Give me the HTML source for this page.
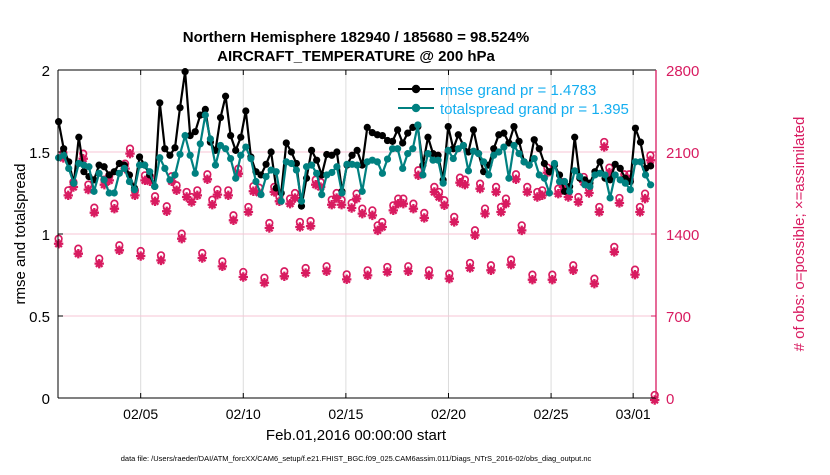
<!DOCTYPE html>
<html><head><meta charset="utf-8"><style>
body{margin:0;background:#fff;}
svg text{font-family:"Liberation Sans",Arial,sans-serif;}
</style></head><body>
<svg id="chart" width="830" height="470" viewBox="0 0 830 470" xmlns="http://www.w3.org/2000/svg">
<rect width="830" height="470" fill="#fff"/>
<g id="grid"></g>
<g id="pinks"></g>
<g id="lines"></g>
<g id="axes"></g>
<text x="356" y="42" text-anchor="middle" font-size="15" font-weight="bold">Northern Hemisphere 182940 / 185680 = 98.524%</text>
<text x="356" y="61" text-anchor="middle" font-size="15" font-weight="bold">AIRCRAFT_TEMPERATURE @ 200 hPa</text>
<text transform="translate(25,234) rotate(-90)" text-anchor="middle" font-size="15">rmse and totalspread</text>
<text transform="translate(804,234) rotate(-90)" text-anchor="middle" font-size="15" fill="#d81b60"># of obs: o=possible; ×=assimilated</text>
<text x="356" y="440" text-anchor="middle" font-size="15">Feb.01,2016 00:00:00 start</text>
<text x="356" y="461" text-anchor="middle" font-size="7.5">data file: /Users/raeder/DAI/ATM_forcXX/CAM6_setup/f.e21.FHIST_BGC.f09_025.CAM6assim.011/Diags_NTrS_2016-02/obs_diag_output.nc</text>
<g>
<line x1="398" y1="89" x2="434" y2="89" stroke="#000" stroke-width="2"/>
<circle cx="416" cy="89" r="4.2" fill="#000"/>
<text x="440" y="95" font-size="15" fill="#14aef0">rmse grand pr = 1.4783</text>
<line x1="398" y1="108" x2="434" y2="108" stroke="#008080" stroke-width="2"/>
<circle cx="416" cy="108" r="4.2" fill="#008080"/>
<text x="440" y="114" font-size="15" fill="#14aef0">totalspread grand pr = 1.395</text>
</g>
</svg>
<script>
const rmse=[1.685,1.52,1.44,1.31,1.59,1.38,1.35,1.33,1.42,1.41,1.36,1.38,1.43,1.42,1.36,1.28,1.47,1.42,1.36,1.29,
1.80,1.52,1.48,1.526,1.77,1.99,1.60,1.624,1.725,1.76,1.56,1.51,1.71,1.84,1.60,1.51,1.59,1.75,1.47,1.38,
1.36,1.425,1.50,1.28,1.25,1.555,1.50,1.43,1.17,1.34,1.51,1.45,1.36,1.485,1.48,1.50,1.26,1.42,1.48,1.51,
1.42,1.65,1.618,1.605,1.60,1.57,1.565,1.635,1.555,1.615,1.65,1.655,1.42,1.59,1.49,1.48,1.33,1.655,1.52,1.605,
1.54,1.50,1.635,1.49,1.38,1.42,1.52,1.605,1.615,1.555,1.655,1.565,1.44,1.42,1.575,1.52,1.43,1.38,1.42,1.36,
1.26,1.29,1.59,1.34,1.33,1.31,1.38,1.44,1.34,1.33,1.425,1.40,1.34,1.32,1.645,1.56,1.40,1.415];
const spread=[1.465,1.48,1.40,1.31,1.43,1.42,1.41,1.26,1.37,1.33,1.25,1.25,1.37,1.40,1.32,1.27,1.42,1.42,1.38,1.29,
1.465,1.40,1.33,1.36,1.486,1.60,1.48,1.37,1.55,1.725,1.58,1.42,1.54,1.52,1.46,1.34,1.48,1.53,1.46,1.32,
1.24,1.35,1.39,1.38,1.20,1.44,1.43,1.39,1.20,1.41,1.42,1.37,1.24,1.36,1.375,1.41,1.25,1.425,1.425,1.42,
1.26,1.44,1.45,1.44,1.37,1.457,1.52,1.52,1.40,1.49,1.52,1.665,1.36,1.49,1.45,1.45,1.31,1.51,1.46,1.52,
1.54,1.385,1.505,1.49,1.44,1.36,1.48,1.50,1.53,1.34,1.54,1.49,1.44,1.42,1.46,1.36,1.34,1.25,1.43,1.32,
1.32,1.26,1.385,1.35,1.30,1.29,1.36,1.37,1.36,1.22,1.36,1.33,1.31,1.27,1.44,1.44,1.36,1.30];
const obsDays=[0,0.23,0.47,0.72,0.96,1.20,1.45,1.74,1.98,2.23,2.47,2.72,2.96,3.24,3.48,3.72,4.00,4.21,4.45,4.70,4.99,5.27,5.51,5.75,6.0,6.24,6.48,6.76,7.0,7.25,7.49,7.74,7.98,8.27,8.52,8.76,9.00,9.25,9.49,9.77,10.03,10.27,10.51,10.76,11.0,11.28,11.52,11.76,12.04,12.28,12.53,12.77,13.06,13.31,13.55,13.79,14.04,14.28,14.52,
14.80,15.06,15.29,15.55,15.77,16.02,16.31,16.55,16.80,17.04,17.29,17.53,17.82,18.05,18.31,18.54,18.80,19.04,19.28,19.56,19.80,20.05,20.29,20.54,20.78,21.07,21.32,21.56,21.80,22.05,22.29,22.57,22.84,23.09,23.33,23.57,23.82,24.06,24.35,24.60,24.84,25.08,25.33,25.59,25.85,26.11,26.35,26.59,26.84,27.08,27.33,27.57,27.81,28.09,28.33,28.58,28.84,29.05];
const obsCounts=[1334,2066,1747,1818,1249,2060,1796,1599,1164,1838,1875,1633,1278,1975,2103,1747,1229,1875,1867,1696,1192,1611,1867,1790,1377,1733,1690,1747,1212,1884,1667,1753,1141,1747,1534,1932,1050,1605,1782,1770,1001,1468,1776,1696,1056,1676,1724,1477,1084,1485,1838,1818,1099,1667,1724,1667,1030,1639,1719,
1591,1064,1576,1448,1477,1093,1619,1676,1676,1099,1633,1918,1554,1064,1776,1733,1662,1036,1520,1855,1838,1127,1406,1804,1591,1107,1776,1605,1676,1155,1884,1448,1776,1027,1733,1747,1941,1027,1761,1818,1733,1107,1690,1861,1767,993,1605,2160,1941,1264,1682,1884,1884,1070,1605,1719,2046,0];
const xTickDays=[4,9,14,19,24,28];
const xTickLabels=["02/05","02/10","02/15","02/20","02/25","03/01"];
const yTicks=[0,0.5,1,1.5,2];
const rTicks=[0,700,1400,2100,2800];
const lastDay=28.85;

const NS="http://www.w3.org/2000/svg";
const X0=58.6,PXD=20.52,L=58,R=656,T=70,B=398;
const xs=d=>X0+PXD*d;
const ys=v=>B-(v/2)*(B-T);
const yr=c=>B-(c/2800)*(B-T);
function mk(tag,attrs,parent){const e=document.createElementNS(NS,tag);for(const k in attrs)e.setAttribute(k,attrs[k]);parent.appendChild(e);return e;}
const grid=document.getElementById('grid'),axes=document.getElementById('axes'),lines=document.getElementById('lines'),pinks=document.getElementById('pinks');
const n=rmse.length;
const tday=i=>i*lastDay/(n-1);
xTickDays.forEach((d,i)=>{
  const g=mk('line',{x1:xs(d),x2:xs(d),y1:T,y2:B,stroke:'#dcdcdc','stroke-width':1},grid);
  
  
  const t=mk('text',{x:xs(d),y:419,'text-anchor':'middle','font-size':14},axes);
  t.textContent=xTickLabels[i];
  
  
  mk('line',{x1:xs(d),x2:xs(d),y1:B,y2:B-5,stroke:'#000'},axes);
  mk('line',{x1:xs(d),x2:xs(d),y1:T,y2:T+5,stroke:'#000'},axes);
});
rTicks.forEach(c=>{
  if(c>0&&c<2800){const g=mk('line',{x1:L,x2:R,y1:yr(c),y2:yr(c),stroke:'#f7c6d6','stroke-width':1},grid);
  
  }
  const t=mk('text',{x:R+10,y:yr(c)+6,'font-size':15,fill:'#d81b60'},axes);
  t.textContent=c;
  
  
  mk('line',{x1:R,x2:R-5,y1:yr(c),y2:yr(c),stroke:'#d81b60'},axes);
});
yTicks.forEach(v=>{
  const t=mk('text',{x:L-8,y:ys(v)+6,'text-anchor':'end','font-size':15},axes);
  t.textContent=v;
  
  
  mk('line',{x1:L,x2:L+5,y1:ys(v),y2:ys(v),stroke:'#000'},axes);
});
mk('line',{x1:L,x2:L,y1:T,y2:B,stroke:'#000'},axes);
mk('line',{x1:L,x2:R,y1:B,y2:B,stroke:'#000'},axes);
mk('line',{x1:L,x2:R,y1:T,y2:T,stroke:'#000'},axes);
mk('line',{x1:R,x2:R,y1:T,y2:B,stroke:'#d81b60','stroke-width':1.3},axes);

obsDays.forEach((d,i)=>{
  const x=xs(d),y=yr(obsCounts[i]);
  const c=mk('circle',{cx:x,cy:y-3,r:3.3,fill:'none',stroke:'#d81b60','stroke-width':1.7},pinks);
  
  
  const s=mk('path',{d:`M${x-4.7},${y+2}h9.4M${x},${y-2.7}v9.4M${x-3.3},${y-1.3}l6.6,6.6M${x+3.3},${y-1.3}l-6.6,6.6`,stroke:'#d81b60','stroke-width':2.3},pinks);
  
  
});
function series(vals,col,name){
  const pts=vals.map((v,i)=>xs(tday(i)).toFixed(1)+','+ys(v).toFixed(1)).join(' ');
  const p=mk('polyline',{points:pts,fill:'none',stroke:col,'stroke-width':2.2},lines);
  
  
  vals.forEach((v,i)=>{
    const c=mk('circle',{cx:xs(tday(i)),cy:ys(v),r:3.6,fill:col},lines);
    
    
  });
}
series(rmse,'#000','rmse');
series(spread,'#008080','totalspread');
</script>
</body></html>
